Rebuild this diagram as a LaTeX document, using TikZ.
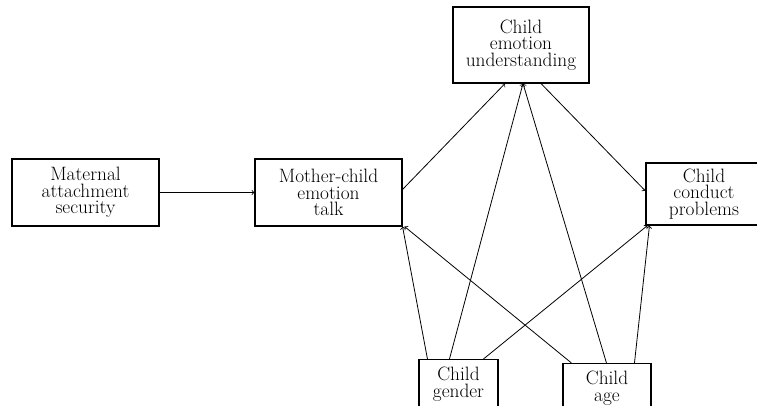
\documentclass[tikz,border=0pt]{standalone}
\usepackage{fontspec}
\setmainfont{Latin Modern Roman}
\usetikzlibrary{arrows, calc}
\newcommand{\factorfont}{\fontsize{14.5pt}{12.5pt}\selectfont}
\tikzstyle{factor} = [rectangle, draw=black, thick, align=center, inner sep=1pt, font=\factorfont]
\tikzstyle{arrow} = [semithick,->,>=to]

\begin{document}
\begin{tikzpicture}[x=0.75pt, y=-0.75pt]
                \useasboundingbox (0,0) rectangle (757,406);
                % Nodes
                \node (maternal) [factor, minimum width=110.25pt, minimum height=50.25pt] at (85.5,192.5) {Maternal\\attachment\\security};
                \node (talk) [factor, minimum width=110.25pt, minimum height=50.25pt] at (328.5,192.5) {Mother-child\\emotion\\talk};
                \node (understand) [factor, minimum width=102pt, minimum height=57pt] at (521,45) {Child\\emotion\\understanding};
                \node (conduct) [factor, minimum width=87pt, minimum height=46.5pt] at (704,194) {Child\\conduct\\problems};
                \node (gender) [factor, minimum width=59.25pt, minimum height=46.5pt, anchor=north] at (458.5,359) {Child\\gender\\ };
                \node (age) [factor, minimum width=66pt, minimum height=46.5pt, anchor=north] at (607,363) {Child\\age\\ };

                % Arrows
                \draw [arrow] (maternal) -- (talk);
                \draw [arrow] ($(talk.east)+(0,-3)$) -- ($(understand.south)+(-16,0)$);
                \draw [arrow] ($(understand.south)+(20,0)$) -- ($(conduct.west)+(0,-3)$);
                \draw [arrow] ($(gender.north west)+(9,0)$) -- ($(talk.south east)+(0,0)$);
                \draw [arrow] ($(gender.north west)+(31,0)$) -- ($(understand.south)+(2,0)$);
                \draw [arrow] ($(gender.north west)+(65,0)$) -- ($(conduct.south west)+(2,0)$);
                \draw [arrow] ($(age.north west)+(9,0)$) -- ($(talk.south east)+(2,0)$);
                \draw [arrow] ($(age.north west)+(44,0)$) -- ($(understand.south)+(2,0)$);
                \draw [arrow] ($(age.north west)+(72,0)$) -- ($(conduct.south west)+(4,0)$);
            \end{tikzpicture}
\end{document}
